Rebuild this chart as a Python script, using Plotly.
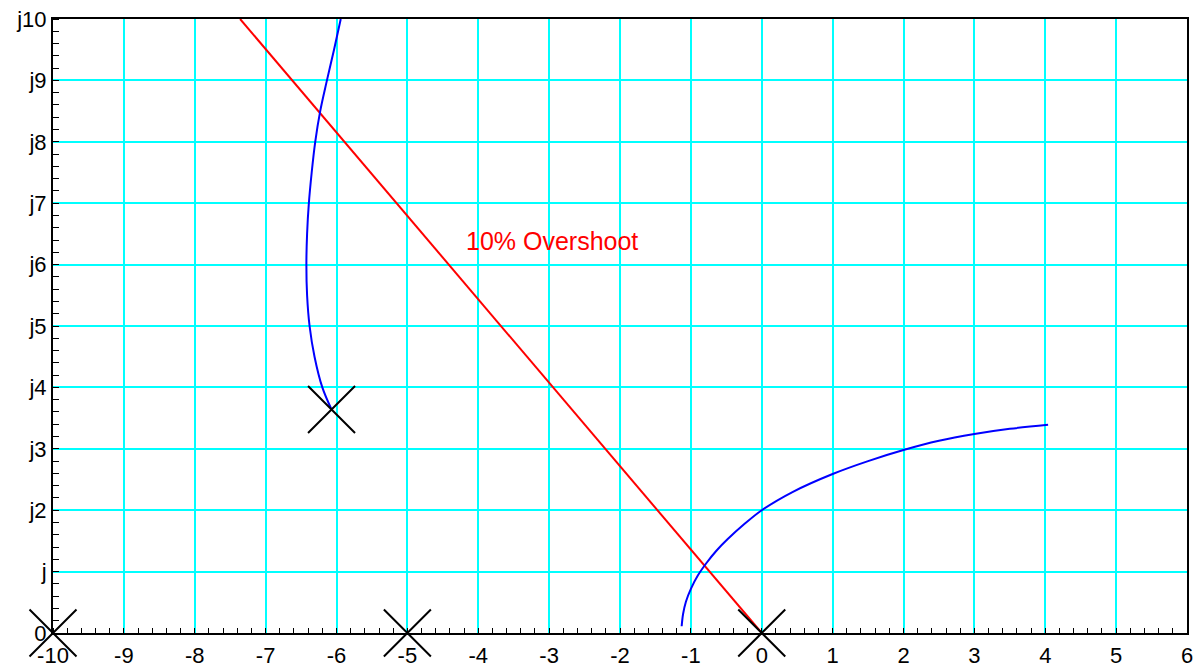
import plotly.graph_objects as go

# Open-loop poles
pole_x = [-10, -5, 0, -6.07]
pole_y = [0, 0, 0, 3.64]

# Root-locus branch leaving the complex pole
upper_x = [-6.07, -6.20, -6.31, -6.38, -6.415, -6.425, -6.415, -6.39, -6.35, -6.30, -6.23, -6.135, -6.035, -5.94]
upper_y = [3.64, 4.0, 4.5, 5.0, 5.5, 6.0, 6.5, 7.0, 7.5, 8.0, 8.5, 9.0, 9.5, 10.0]

# Root-locus branch near the origin
lower_x = [-1.13, -1.11, -1.07, -1.00, -0.90, -0.78, -0.64, -0.48, -0.25, 0.0,
           0.44, 1.0, 1.5, 2.0, 2.5, 3.0, 3.5, 4.04]
lower_y = [0.11, 0.31, 0.51, 0.72, 0.94, 1.14, 1.34, 1.53, 1.77, 2.0,
           2.30, 2.59, 2.80, 2.98, 3.13, 3.24, 3.325, 3.39]

# Constant-damping line for 10% overshoot
zeta_x = [0, -7.36]
zeta_y = [0, 10]

x_ticks = list(range(-10, 7))
x_labels = [str(v) for v in x_ticks]
y_ticks = list(range(0, 11))
y_labels = ["0", "j"] + ["j%d" % v for v in range(2, 11)]

FONT = "Liberation Sans, Arial, Helvetica, sans-serif"

fig = go.Figure()

fig.add_trace(go.Scatter(x=zeta_x, y=zeta_y, mode="lines",
                         line=dict(color="#ff0000", width=2), hoverinfo="skip"))
fig.add_trace(go.Scatter(x=upper_x, y=upper_y, mode="lines",
                         line=dict(color="#0000ff", width=2, shape="spline")))
fig.add_trace(go.Scatter(x=lower_x, y=lower_y, mode="lines",
                         line=dict(color="#0000ff", width=2, shape="spline")))
fig.add_trace(go.Scatter(x=pole_x, y=pole_y, mode="markers", cliponaxis=False,
                         marker=dict(symbol="x-thin", size=47,
                                     line=dict(color="black", width=2))))

fig.add_annotation(x=-2.96, y=6.38, text="10% Overshoot", showarrow=False,
                   font=dict(color="#ff0000", size=25, family=FONT))

axis_common = dict(
    showline=True, linecolor="black", linewidth=2, mirror=True,
    showgrid=True, gridcolor="#00ffff", gridwidth=1.5,
    zeroline=False, ticks="", automargin=False,
    tickfont=dict(size=22, color="black", family=FONT),
)

fig.update_xaxes(range=[-10, 6], tickvals=x_ticks, ticktext=x_labels,
                 ticklabelstandoff=2,
                 minor=dict(dtick=0.2, ticks="inside", ticklen=5,
                            tickcolor="black", tickwidth=1, showgrid=False),
                 **axis_common)
fig.update_yaxes(range=[0, 10], tickvals=y_ticks, ticktext=y_labels,
                 minor=dict(dtick=0.2, ticks="inside", ticklen=6,
                            tickcolor="black", tickwidth=1, showgrid=False),
                 **axis_common)

fig.update_layout(
    width=1197, height=668, autosize=False,
    margin=dict(l=53, r=10, t=19, b=35),
    paper_bgcolor="white", plot_bgcolor="white",
    showlegend=False,
    font=dict(family=FONT, color="black"),
)

fig.write_html("out.html")
